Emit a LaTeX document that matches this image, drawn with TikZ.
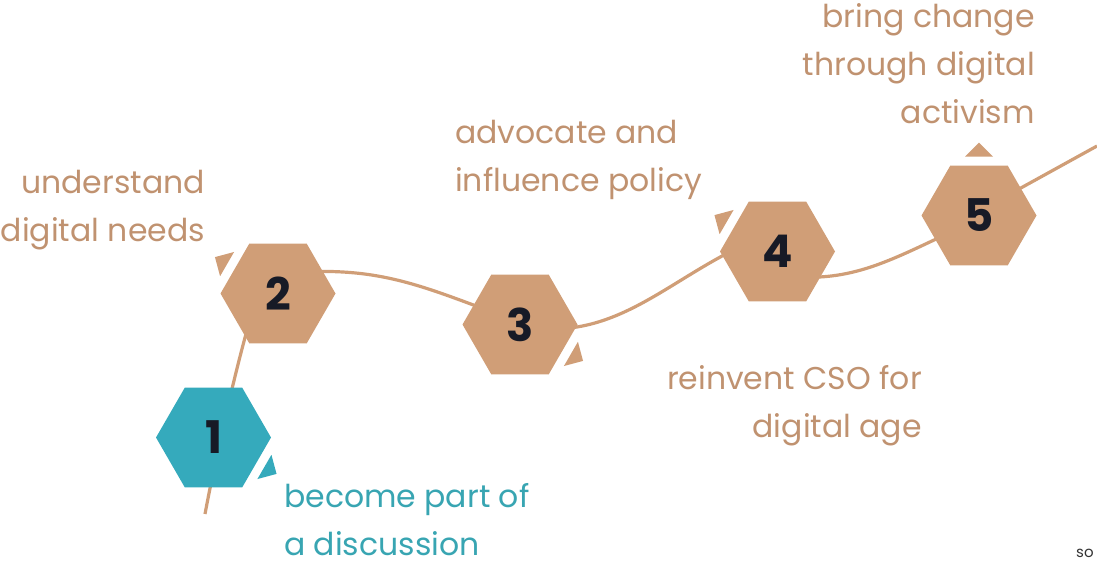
\documentclass[tikz,border=0pt]{standalone}
\usepackage{fontspec}
\setmainfont{Poppins}
\usetikzlibrary{shapes.geometric,calc,backgrounds}
\definecolor{tanfill}{HTML}{D09E77}
\definecolor{tantext}{HTML}{C09270}
\definecolor{tealfill}{HTML}{35AABC}
\definecolor{tealtext}{HTML}{38A5B2}
\definecolor{numcol}{HTML}{171A26}
\tikzset{
  hexa/.style={regular polygon, regular polygon sides=6, shape border rotate=0,
    minimum size=115pt, inner sep=0pt, outer sep=0pt, fill=tanfill,
    text=numcol, font=\fontsize{45}{45}\selectfont\bfseries},
  hexteal/.style={hexa, fill=tealfill},
  pathline/.style={draw=tanfill, line width=3.2pt},
  lbl/.style={inner sep=0pt, text=tantext},
  pointer/.style={fill=tanfill},
}
\newcommand{\lines}[2]{\fontsize{31.5}{48}\selectfont\begin{tabular}[t]{@{}#1@{}}#2\end{tabular}}
\begin{document}
\begin{tikzpicture}[x=1pt,y=-1pt]
\useasboundingbox (0,0) rectangle (1097,563);
% hexagons
\node[hexteal] (h1) at (213.5,437.5) {1};
\node[hexa] (h2) at (278,293.5) {2};
\node[hexa] (h3) at (520,324.5) {3};
\node[hexa] (h4) at (777.5,251.5) {4};
\node[hexa] (h5) at (979,215.5) {5};
\coordinate (start) at (205,514);
\coordinate (finish) at (1097,146);
% connecting curve behind hexagons
\begin{pgfonlayer}{background}
\draw[pathline] (start) .. controls (217,450) and (238,360) .. ($(h2)+(-28,26.5)$);
\draw[pathline] ($(h2)+(22,-21.5)$) .. controls (380,268) and (420,285) .. ($(h3)+(-20,-9.5)$);
\draw[pathline] ($(h3)+(30,4.5)$) .. controls (630,330) and (680,270) .. ($(h4)+(-17.5,-13.5)$);
\draw[pathline] ($(h4)+(22.5,25.5)$) .. controls (860,280) and (900,255) .. ($(h5)+(-19,12.5)$);
\draw[pathline] ($(h5)+(11,-10.5)$) -- (finish);
\end{pgfonlayer}
% pointers
\fill[fill=tealfill] ($(h1)+(30:58.8)+(120:14)$) -- ($(h1)+(30:72.8)$) -- ($(h1)+(30:58.8)+(-60:14)$) -- cycle;
\fill[pointer] ($(h2)+(210:58.8)+(120:14)$) -- ($(h2)+(210:72.8)$) -- ($(h2)+(210:58.8)+(-60:14)$) -- cycle;
\fill[pointer] ($(h3)+(30:58.8)+(120:14)$) -- ($(h3)+(30:72.8)$) -- ($(h3)+(30:58.8)+(-60:14)$) -- cycle;
\fill[pointer] ($(h4)+(210:58.8)+(120:14)$) -- ($(h4)+(210:72.8)$) -- ($(h4)+(210:58.8)+(-60:14)$) -- cycle;
\fill[pointer] ($(h5)+(270:58.8)+(0:14)$) -- ($(h5)+(270:72.8)$) -- ($(h5)+(270:58.8)+(180:14)$) -- cycle;
% labels
\node[lbl, text=tealtext, anchor=base west] (t1) at (284,507) {\lines{l}{become part of\\a discussion}};
\node[lbl, anchor=base east] (t2) at (205,193) {\lines{r}{understand\\digital needs}};
\node[lbl, anchor=base west] (t3) at (455,143) {\lines{l}{advocate and\\influence policy}};
\node[lbl, anchor=base east] (t4) at (922,389) {\lines{r}{reinvent CSO for\\digital age}};
\node[lbl, anchor=base east] (t5) at (1035,27) {\lines{r}{bring change\\through digital\\activism}};
\node[inner sep=0pt, anchor=base west, text=black!80, font=\fontsize{15}{15}\selectfont] (src) at (1076,557) {so};
\end{tikzpicture}
\end{document}
